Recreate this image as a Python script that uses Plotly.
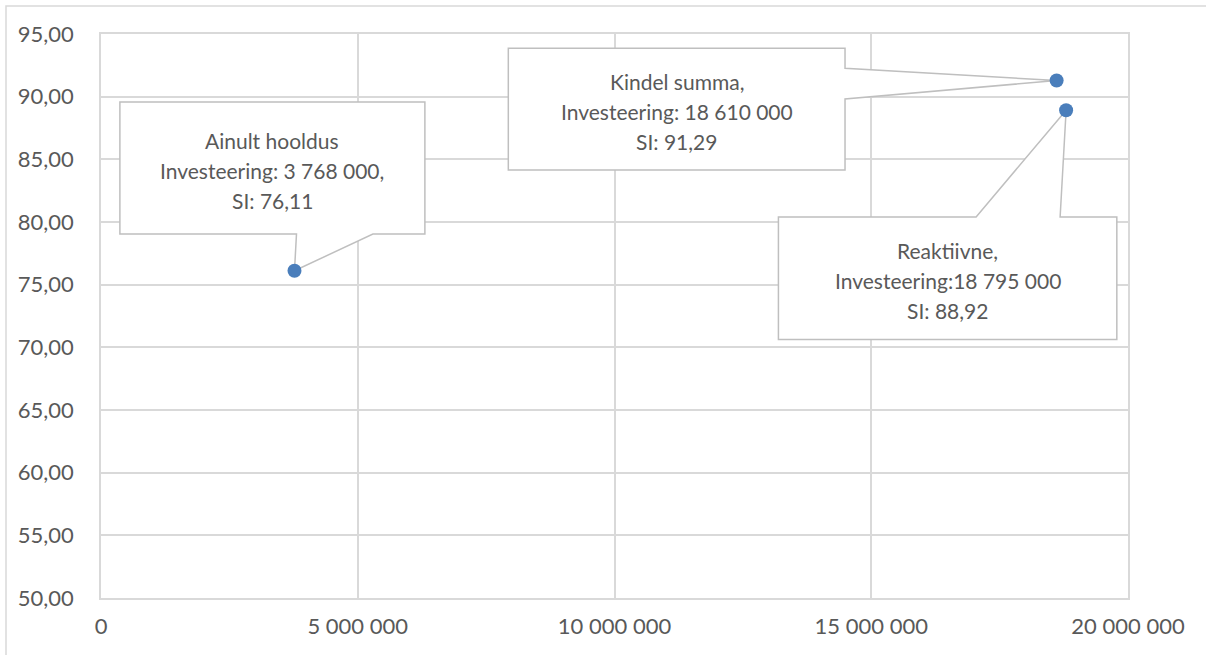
import plotly.graph_objects as go

# Scenarios: investment (EUR) vs. SI score
scenarios = ["Ainult hooldus", "Kindel summa", "Reaktiivne"]
investment = [3768000, 18610000, 18795000]
si_score = [76.11, 91.29, 88.92]
callout_text = [
    ["Ainult hooldus", "Investeering: 3 768 000,", "SI: 76,11"],
    ["Kindel summa,", "Investeering: 18 610 000", "SI: 91,29"],
    ["Reaktiivne,", "Investeering:18 795 000", "SI: 88,92"],
]

x_ticks = [0, 5000000, 10000000, 15000000, 20000000]
y_ticks = [50, 55, 60, 65, 70, 75, 80, 85, 90, 95]

# Callout geometry in screen pixels relative to its point (dx right, dy down):
# box = (left, top, right, bottom); pointer = (edge, base_a, base_b)
callout_geom = [
    dict(box=(-174.6, -168.7, 130.4, -36.7), pointer=("bottom", 2.0, 78.4)),
    dict(box=(-548.3, -32.2, -211.6, 89.5), pointer=("right", -12.2, 18.5)),
    dict(box=(-287.7, 106.7, 50.7, 229.3), pointer=("top", -90.0, -6.0)),
]
LINE_GAP = 30.0

W, H = 1206, 655
M_L, M_R, M_T, M_B = 101, 78, 34, 57
TEXT = "#595959"
GRID = "#d9d9d9"
EDGE = "#bfbfbf"
FONT = "Lato, 'Open Sans', sans-serif"


def callout_path(geom):
    """Closed outline of a box with a wedge pointing to (0, 0); y is flipped (pixel mode is y-up)."""
    l, t, r, b = geom["box"]
    edge, a, c = geom["pointer"]
    pts = []
    if edge == "bottom":
        pts = [(l, t), (r, t), (r, b), (c, b), (0, 0), (a, b), (l, b)]
    elif edge == "top":
        pts = [(l, t), (a, t), (0, 0), (c, t), (r, t), (r, b), (l, b)]
    elif edge == "right":
        pts = [(l, t), (r, t), (r, a), (0, 0), (r, c), (r, b), (l, b)]
    return "M " + " L ".join(f"{x:.1f},{-y:.1f}" for x, y in pts) + " Z"


fig = go.Figure()
fig.add_trace(
    go.Scatter(
        x=investment,
        y=si_score,
        mode="markers",
        marker=dict(size=14, color="#4a7ebb"),
        name="SI",
        hovertext=scenarios,
        showlegend=False,
    )
)

shapes = []
annotations = []
for xi, yi, lines, geom in zip(investment, si_score, callout_text, callout_geom):
    shapes.append(
        dict(
            type="path",
            xref="x",
            yref="y",
            xsizemode="pixel",
            ysizemode="pixel",
            xanchor=xi,
            yanchor=yi,
            path=callout_path(geom),
            fillcolor="white",
            line=dict(color=EDGE, width=1.5),
            layer="between",
        )
    )
    l, t, r, b = geom["box"]
    cx, cy = (l + r) / 2, (t + b) / 2 + 2
    n = len(lines)
    for i, line in enumerate(lines):
        dy = cy + (i - (n - 1) / 2) * LINE_GAP
        annotations.append(
            dict(
                x=xi,
                y=yi,
                xref="x",
                yref="y",
                text=line,
                showarrow=False,
                xshift=cx,
                yshift=-dy,
                xanchor="center",
                yanchor="middle",
                align="center",
                font=dict(family=FONT, size=21, color=TEXT),
            )
        )

# Outer chart frame
plot_w = W - M_L - M_R
plot_h = H - M_T - M_B
shapes.append(
    dict(
        type="rect",
        xref="paper",
        yref="paper",
        x0=(6 - M_L) / plot_w,
        x1=(W + 10 - M_L) / plot_w,
        y0=-(M_B + 10) / plot_h,
        y1=(H - M_B - 6) / plot_h,
        line=dict(color=GRID, width=1.5),
        fillcolor="rgba(0,0,0,0)",
        layer="below",
    )
)

fig.update_layout(
    width=W,
    height=H,
    margin=dict(l=M_L, r=M_R, t=M_T, b=M_B, pad=0),
    paper_bgcolor="white",
    plot_bgcolor="white",
    separators=", ",
    font=dict(family=FONT, size=22, color=TEXT),
    shapes=shapes,
    annotations=annotations,
    xaxis=dict(
        range=[0, 20000000],
        tickvals=x_ticks,
        tickformat=",d",
        showgrid=True,
        gridcolor=GRID,
        gridwidth=1.5,
        zeroline=False,
        showline=True,
        linecolor=GRID,
        linewidth=1.5,
        mirror=True,
        ticks="",
        ticklabelstandoff=8,
        tickfont=dict(family=FONT, size=22, color=TEXT),
    ),
    yaxis=dict(
        range=[50, 95],
        tickvals=y_ticks,
        tickformat=".2f",
        showgrid=True,
        gridcolor=GRID,
        gridwidth=1.5,
        zeroline=False,
        showline=True,
        linecolor=GRID,
        linewidth=1.5,
        mirror=True,
        ticks="",
        ticklabelstandoff=21,
        tickfont=dict(family=FONT, size=22, color=TEXT),
    ),
)

fig.write_html("out.html")
